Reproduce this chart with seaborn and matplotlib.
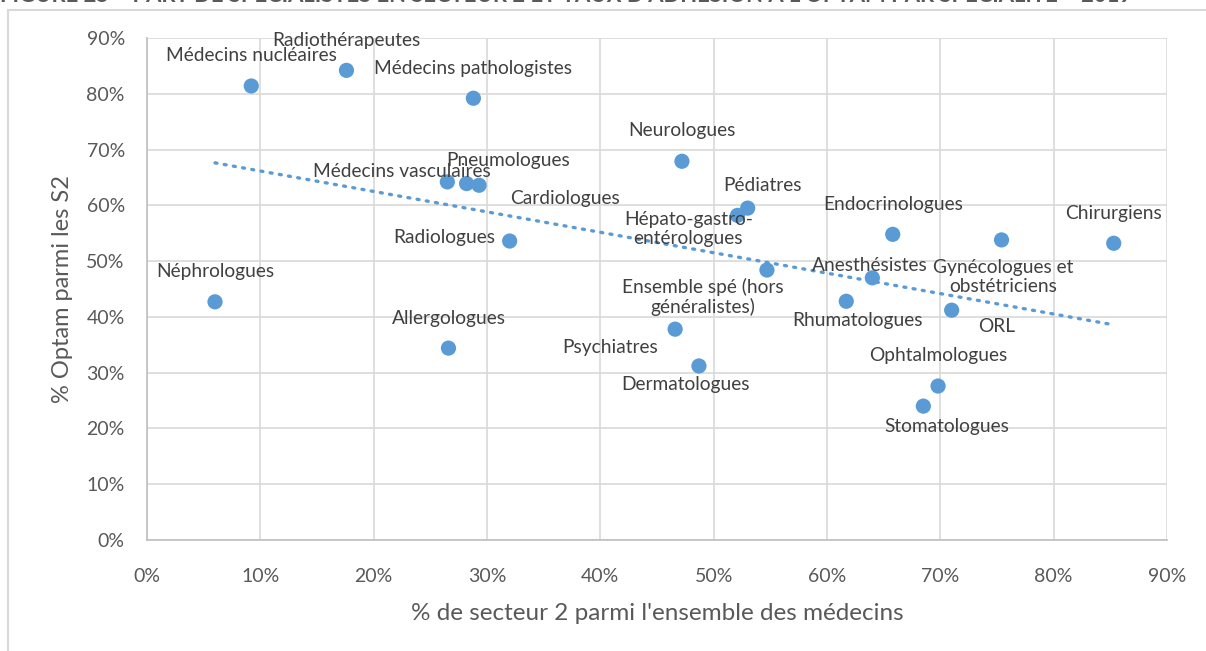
import seaborn as sns
import matplotlib.pyplot as plt
import matplotlib.patches as mpatches
from matplotlib.ticker import PercentFormatter
import pandas as pd

# Data
specialites = ['Médecins nucléaires', 'Radiothérapeutes', 'Médecins pathologistes', 'Neurologues',
               'Médecins vasculaires', 'Pneumologues', 'Cardiologues', 'Radiologues',
               'Pédiatres', 'Hépato-gastro-\nentérologues', 'Endocrinologues', 'Gynécologues et\nobstétriciens',
               'Chirurgiens', 'Ensemble spé (hors\ngénéralistes)', 'Anesthésistes', 'Rhumatologues',
               'ORL', 'Néphrologues', 'Allergologues', 'Psychiatres', 'Dermatologues',
               'Ophtalmologues', 'Stomatologues']
part_secteur2 = [9.2, 17.6, 28.8, 47.2, 26.5, 28.2, 29.3, 32.0, 53.0, 52.1, 65.8, 75.4,
                 85.3, 54.7, 64.0, 61.7, 71.0, 6.0, 26.6, 46.6, 48.7, 69.8, 68.5]
part_optam = [81.4, 84.2, 79.2, 67.9, 64.2, 63.9, 63.6, 53.6, 59.5, 58.2, 54.8, 53.8,
              53.2, 48.4, 47.0, 42.8, 41.2, 42.7, 34.4, 37.8, 31.2, 27.6, 24.0]

df = pd.DataFrame({'specialite': specialites, 'x': part_secteur2, 'y': part_optam})

# Label offsets (pixels, from point to label centre)
offsets = {
    'Médecins nucléaires': (0, 30), 'Radiothérapeutes': (0, 30), 'Médecins pathologistes': (0, 30),
    'Neurologues': (0, 31), 'Médecins vasculaires': (-45, 10), 'Pneumologues': (42, 23),
    'Cardiologues': (86, -13), 'Radiologues': (-65, 4), 'Pédiatres': (15, 23),
    'Hépato-gastro-\nentérologues': (-49, -14), 'Endocrinologues': (0, 30),
    'Gynécologues et\nobstétriciens': (2, -37), 'Chirurgiens': (0, 30),
    'Ensemble spé (hors\ngénéralistes)': (-64, -27), 'Anesthésistes': (-3, 12),
    'Rhumatologues': (11, -19), 'ORL': (45, -16), 'Néphrologues': (0, 30),
    'Allergologues': (0, 30), 'Psychiatres': (-65, -18), 'Dermatologues': (-13, -19),
    'Ophtalmologues': (0, 31), 'Stomatologues': (23, -20),
}

sns.set_style('white')
plt.rcParams['font.family'] = ['Lato', 'DejaVu Sans']
txt = '#404040'
blue = '#5B9BD5'

fig = plt.figure(figsize=(12.06, 6.51), dpi=100)
ax = fig.add_axes([147 / 1206, 1 - 540 / 651, 1020 / 1206, 502 / 651])

# Trend line
sns.regplot(x='x', y='y', data=df, scatter=False, ci=None, truncate=True, ax=ax,
            line_kws={'color': blue, 'lw': 2.4, 'linestyle': (0, (0.6, 2.2)),
                      'dash_capstyle': 'round'})

sns.scatterplot(x='x', y='y', data=df, ax=ax, s=120, color=blue, edgecolor='none', zorder=3)

for _, r in df.iterrows():
    dx, dy = offsets[r['specialite']]
    ax.annotate(r['specialite'], (r['x'], r['y']), xytext=(dx * 0.72, dy * 0.72),
                textcoords='offset points', ha='center', va='center',
                fontsize=13.8, color=txt, linespacing=1.15, zorder=4)

ax.set_xlim(0, 90)
ax.set_ylim(0, 90)
ax.set_xticks(range(0, 91, 10))
ax.set_yticks(range(0, 91, 10))
ax.xaxis.set_major_formatter(PercentFormatter(decimals=0))
ax.yaxis.set_major_formatter(PercentFormatter(decimals=0))
ax.grid(True, color='#D9D9D9', lw=1.2)
ax.set_axisbelow(True)
for s in ['top', 'right']:
    ax.spines[s].set_visible(False)
for s in ['left', 'bottom']:
    ax.spines[s].set_color('#BFBFBF')
    ax.spines[s].set_linewidth(1.2)
ax.tick_params(axis='both', length=6, width=1.2, color='#BFBFBF', labelsize=14,
               labelcolor='#595959', pad=10)
ax.tick_params(axis='x', pad=14)

ax.set_xlabel("% de secteur 2 parmi l'ensemble des médecins", fontsize=17.5, color='#595959', labelpad=13)
ax.set_ylabel('% Optam parmi les S2', fontsize=17, color='#595959', labelpad=10)

# Outer chart frame
fig.patches.append(mpatches.Rectangle((8 / 1206, -0.1), 1.2, 1.1 - 10 / 651, transform=fig.transFigure,
                                      fill=False, edgecolor='#D9D9D9', lw=1.5, zorder=0))

# Cut-off title at top
fig.text(0.0, 1 - 2 / 651, "FIGURE 25 – PART DE SPÉCIALISTES EN SECTEUR 2 ET TAUX D'ADHÉSION À L'OPTAM PAR SPÉCIALITÉ – 2019",
         ha='left', va='baseline', fontsize=15.8, fontweight='bold', color='#595959')

plt.savefig('out.png', dpi=100)
